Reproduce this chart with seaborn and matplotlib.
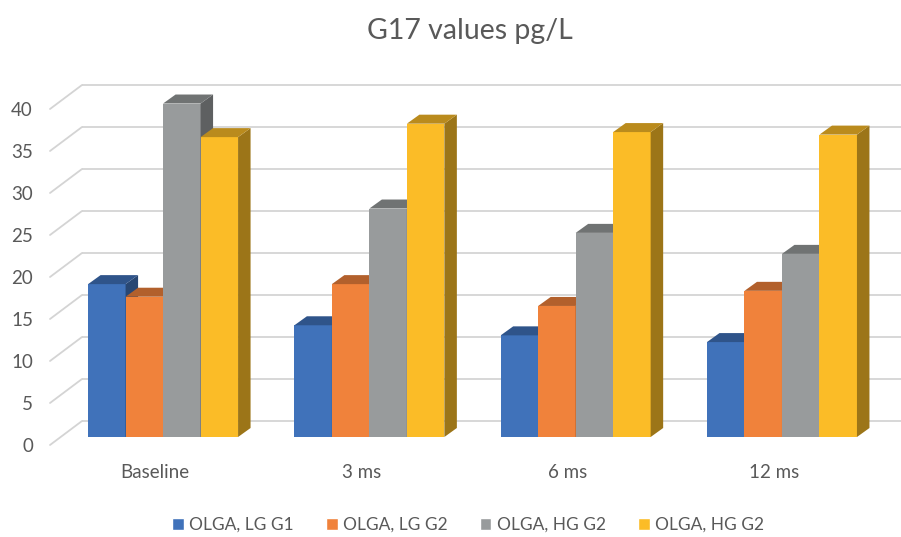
import numpy as np
import pandas as pd
import seaborn as sns
import matplotlib.pyplot as plt
from matplotlib.patches import Polygon, Patch
from matplotlib.colors import to_rgb
from matplotlib.transforms import ScaledTranslation

# values (pg/L)
timepoints = ["Baseline", "3 ms", "6 ms", "12 ms"]
series = ["lg_g1", "lg_g2", "hg_g2", "hg_g2_b"]
legend_labels = ["OLGA, LG G1", "OLGA, LG G2", "OLGA, HG G2", "OLGA, HG G2"]
lg_g1 = [18.2, 13.3, 12.1, 11.3]
lg_g2 = [16.7, 18.2, 15.6, 17.4]
hg_g2 = [39.7, 27.2, 24.3, 21.8]
hg_g2_b = [35.7, 37.3, 36.3, 36.0]
y_ticks = [0, 5, 10, 15, 20, 25, 30, 35, 40]
colors = ["#4072BA", "#F0823B", "#989B9C", "#FBBC27"]

df = pd.DataFrame({
    "timepoint": timepoints * 4,
    "series": np.repeat(series, len(timepoints)),
    "value": lg_g1 + lg_g2 + hg_g2 + hg_g2_b,
})

sns.set_style("white")
plt.rcParams["font.family"] = ["Lato", "DejaVu Sans"]
text_color = "#595959"
grid_color = "#D4D4D4"

W, H = 901, 537
fig = plt.figure(figsize=(W / 100, H / 100), dpi=100)
ax = fig.add_axes([82 / W, 100 / H, (W - 82) / W, 336 / H])
ax.patch.set_alpha(0)

sns.barplot(data=df, x="timepoint", y="value", hue="series", order=timepoints,
            hue_order=series, palette=colors, width=0.727, gap=0, saturation=1,
            errorbar=None, legend=False, ax=ax)
ax.set_xlim(-0.393, 3.577)
ax.set_ylim(0, 40)
ax.set_xticks([])
ax.set_yticks([])
ax.set_xlabel("")
ax.set_ylabel("")
sns.despine(ax=ax, left=True, bottom=True)

px = lambda x, y: ScaledTranslation(x / 100, y / 100, fig.dpi_scale_trans)
inv = ax.transData.inverted()


def shift(x, y, dx, dy):
    # move a data point by a pixel offset, return data coords
    d = ax.transData.transform((x, y))
    return inv.transform((d[0] + dx, d[1] + dy))


# back wall gridlines
ax.hlines(y_ticks, 0, 1, transform=ax.get_yaxis_transform() + px(0, 16),
          color=grid_color, lw=1.3, zorder=0.5, clip_on=False)
# side wall lines + tick labels
x0 = ax.get_xlim()[0]
for v in y_ticks:
    a = shift(x0, v, -32, -8)
    b = shift(x0, v, 0, 16)
    ax.plot([a[0], b[0]], [a[1], b[1]], color=grid_color, lw=1.3,
            zorder=0.5, clip_on=False)
    ax.text(0, v, str(v), transform=ax.get_yaxis_transform() + px(-49, -9),
            ha="right", va="center", fontsize=13.5, color=text_color)

for i, t in enumerate(timepoints):
    ax.text(i, 0, t, transform=ax.transData + px(-8, -35), ha="center",
            va="center", fontsize=13.5, color=text_color)

# 3D look: side and top faces on each bar
dx, dy = 12.5, 9
bars = sorted([p for p in ax.patches if p.get_height() > 0], key=lambda p: p.get_x())
for k, p in enumerate(bars):
    z = 2 + k * 0.01
    p.set_zorder(z)
    p.set_clip_on(False)
    p.set_edgecolor("none")
    base = np.array(to_rgb(p.get_facecolor()))
    xl, xr, h = p.get_x(), p.get_x() + p.get_width(), p.get_height()
    side = [(xr, 0), tuple(shift(xr, 0, dx, dy)), tuple(shift(xr, h, dx, dy)), (xr, h)]
    top = [(xl, h), (xr, h), tuple(shift(xr, h, dx, dy)), tuple(shift(xl, h, dx, dy))]
    ax.add_artist(Polygon(side, closed=True, facecolor=base * 0.62, edgecolor="none",
                          zorder=z + 0.001, clip_on=False))
    ax.add_artist(Polygon(top, closed=True, facecolor=base * 0.74, edgecolor="none",
                          zorder=z + 0.002, clip_on=False))

fig.text(470 / W, 1 - 31 / H, "G17 values pg/L", ha="center", va="center",
         fontsize=20.5, color=text_color)

handles = [Patch(facecolor=c) for c in colors]
fig.legend(handles, legend_labels, loc="center", bbox_to_anchor=(468 / W, 12 / H),
           ncol=4, frameon=False, fontsize=12.5, handlelength=0.68, handleheight=0.68,
           handletextpad=0.3, columnspacing=1.85, labelcolor=text_color)

fig.savefig("out.png", dpi=100, facecolor="white")
